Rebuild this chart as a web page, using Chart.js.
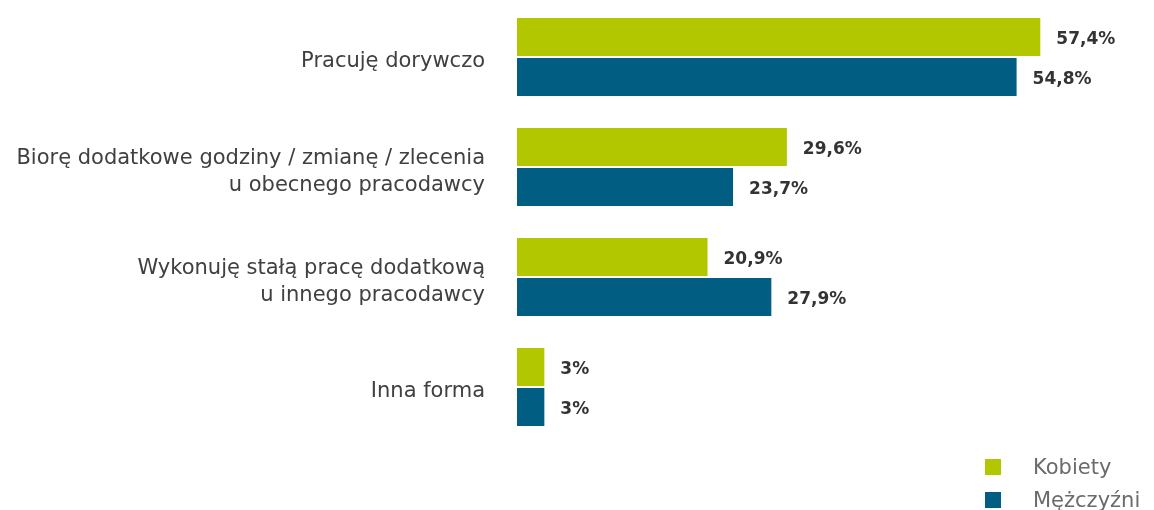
<!DOCTYPE html>
<html>
<head>
<meta charset="utf-8">
<script src="https://cdn.jsdelivr.net/npm/chart.js@4/dist/chart.umd.min.js"></script>
<style>
    html, body { margin: 0; padding: 0; background: #fff; }
    #wrap { position: relative; width: 1154px; height: 510px; overflow: hidden; }
    .legend-item { position: absolute; left: 985px; font-family: 'DejaVu Sans', sans-serif; font-size: 21px; color: #6b6b6b; }
    .legend-item span { position: absolute; left: 0; width: 16px; height: 16px; }
    .legend-item b { position: absolute; left: 48px; font-weight: normal; white-space: nowrap; line-height: 24px; }
</style>
</head>
<body>
<div id="wrap">
    <canvas id="chart" width="1154" height="510"></canvas>
    <div class="legend-item" style="top:459px"><span style="background:#b2c700"></span><b style="top:-4px">Kobiety</b></div>
    <div class="legend-item" style="top:492px"><span style="background:#025d83"></span><b style="top:-4px">Mężczyźni</b></div>
</div>
<script>
// Categories and values
const categories = [
    'Pracuję dorywczo',
    ['Biorę dodatkowe godziny / zmianę / zlecenia', 'u obecnego pracodawcy'],
    ['Wykonuję stałą pracę dodatkową', 'u innego pracodawcy'],
    'Inna forma'
];
const kobiety = [57.4, 29.6, 20.9, 3];
const mezczyzni = [54.8, 23.7, 27.9, 3];

const GREEN = '#b2c700';
const BLUE = '#025d83';

// Format value as Polish percent
function formatPct(v) {
    return String(v).replace('.', ',') + '%';
}

// Draw value labels at the end of each bar
const valueLabels = {
    id: 'valueLabels',
    afterDatasetsDraw(chart) {
        const ctx = chart.ctx;
        ctx.save();
        ctx.font = 'bold 17px "DejaVu Sans", sans-serif';
        ctx.fillStyle = '#333333';
        ctx.textAlign = 'left';
        ctx.textBaseline = 'middle';
        chart.data.datasets.forEach((ds, i) => {
            chart.getDatasetMeta(i).data.forEach((bar, j) => {
                ctx.fillText(formatPct(ds.data[j]), bar.x + 16, bar.y + 3);
            });
        });
        ctx.restore();
    }
};

new Chart(document.getElementById('chart'), {
    type: 'bar',
    data: {
        labels: categories,
        datasets: [
            { label: 'Kobiety', data: kobiety, backgroundColor: GREEN },
            { label: 'Mężczyźni', data: mezczyzni, backgroundColor: BLUE }
        ]
    },
    options: {
        indexAxis: 'y',
        responsive: false,
        animation: false,
        categoryPercentage: 0.727,
        barPercentage: 0.95,
        layout: { padding: { top: 2, bottom: 68, left: 0, right: 90 } },
        scales: {
            x: {
                display: false,
                min: 0,
                max: 60
            },
            y: {
                grid: { display: false },
                border: { display: false },
                ticks: {
                    padding: 24,
                    labelOffset: 5,
                    color: '#404040',
                    font: { family: '"DejaVu Sans", sans-serif', size: 21, lineHeight: 1.25 }
                },
                afterFit(scale) {
                    scale.width = 517;
                    scale.paddingTop = 0;
                    scale.paddingBottom = 0;
                }
            }
        },
        plugins: {
            legend: { display: false },
            tooltip: { enabled: false }
        }
    },
    plugins: [valueLabels]
});
</script>
</body>
</html>
